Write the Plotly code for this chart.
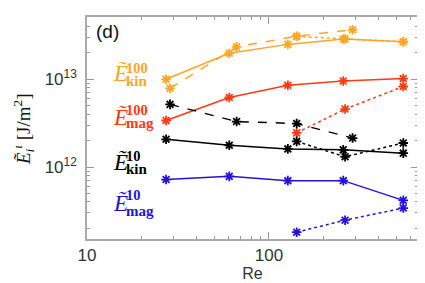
import plotly.graph_objects as go

# ---- data ----
re_solid = [27.2, 60.5, 127, 256, 547]
ekin100_solid = [1.0e13, 1.98e13, 2.5e13, 2.88e13, 2.68e13]
emag100_solid = [3.39e12, 6.2e12, 8.55e12, 9.55e12, 1.02e13]
ekin10_solid = [2.07e12, 1.77e12, 1.61e12, 1.57e12, 1.44e12]
emag10_solid = [7.2e11, 7.83e11, 7.0e11, 7.0e11, 4.17e11]

re_dashed = [28.6, 66.4, 142, 288]
ekin100_dashed = [7.9e12, 2.34e13, 3.1e13, 3.67e13]
ekin10_dashed = [5.18e12, 3.3e12, 3.13e12, 2.14e12]

re_dotted = [142, 262, 547]
ekin100_dotted = [3.08e13, 2.88e13, 2.68e13]
emag100_dotted = [2.45e12, 4.58e12, 8.28e12]
ekin10_dotted = [1.96e12, 1.31e12, 1.88e12]
emag10_dotted = [1.81e11, 2.48e11, 3.41e11]

ORANGE = "#FFA526"
RED = "#FF3A12"
BLACK = "#000000"
BLUE = "#2412DC"

fig = go.Figure()

def add(x, y, color, dash):
    fig.add_trace(go.Scatter(
        x=x, y=y, mode="lines+markers",
        line=dict(color=color, width=1.5, dash=dash),
        marker=dict(symbol="asterisk-open", size=8,
                    line=dict(color=color, width=1.8)),
        showlegend=False))

add(re_solid, ekin100_solid, ORANGE, "solid")
add(re_dashed, ekin100_dashed, ORANGE, "dash")
add(re_dotted, ekin100_dotted, ORANGE, "dot")
add(re_solid, emag100_solid, RED, "solid")
add(re_dotted, emag100_dotted, RED, "dot")
add(re_solid, ekin10_solid, BLACK, "solid")
add(re_dashed, ekin10_dashed, BLACK, "dash")
add(re_dotted, ekin10_dotted, BLACK, "dot")
add(re_solid, emag10_solid, BLUE, "solid")
add(re_dotted, emag10_dotted, BLUE, "dot")

W, H = 425, 283
L, R, T, B = 79, 410, 7, 231

def px(x):
    return (x - L) / (R - L)

def py(y):
    return (B - y) / (B - T)

ann = []
SERIF = "Liberation Serif"

def label(y_e, y_sup, y_sub, sup, sub, color):
    ann.append(dict(xref="paper", yref="paper", x=px(103), y=py(y_e),
                    xanchor="left", yanchor="middle", showarrow=False,
                    text="<i>Ẽ</i>", font=dict(family=SERIF, size=23, color=color)))
    ann.append(dict(xref="paper", yref="paper", x=px(116), y=py(y_sup),
                    xanchor="left", yanchor="middle", showarrow=False,
                    text="<b>%s</b>" % sup, font=dict(family=SERIF, size=14.5, color=color)))
    ann.append(dict(xref="paper", yref="paper", x=px(116), y=py(y_sub),
                    xanchor="left", yanchor="middle", showarrow=False,
                    text="<b>%s</b>" % sub, font=dict(family=SERIF, size=15, color=color)))

label(64, 58.5, 71.5, "100", "kin", ORANGE)
label(108, 100.5, 114, "100", "mag", RED)
label(154, 147, 160, "10", "kin", BLACK)
label(195, 187, 203, "10", "mag", BLUE)

ann.append(dict(xref="paper", yref="paper", x=px(86), y=py(22),
                xanchor="left", yanchor="middle", showarrow=False,
                text="(d)", font=dict(family="Liberation Sans", size=19, color="#111")))

ann.append(dict(xref="paper", yref="paper", x=px(16), y=py(120),
                xanchor="center", yanchor="middle", showarrow=False, textangle=-90,
                text="<i>Ẽ</i><sub><i>i</i></sub><sup><i>ι</i></sup> [J/m<sup>2</sup>]",
                font=dict(family=SERIF, size=19, color="#111")))

fig.update_layout(
    width=W, height=H,
    margin=dict(l=L, r=W - R, t=T, b=H - B),
    paper_bgcolor="white", plot_bgcolor="white",
    annotations=ann,
    font=dict(family="Liberation Sans", size=17, color="#333"),
)

fig.update_xaxes(
    type="log", range=[1.0, 2.819],
    tickvals=[10, 100], ticktext=["10", "100"],
    tickfont=dict(family="Liberation Sans", size=17, color="#333"),
    ticks="inside", ticklen=7, tickwidth=1.2, tickcolor="#999",
    showline=True, linecolor="#aaa", linewidth=1.6, mirror="allticks",
    showgrid=False, zeroline=False,
    minor=dict(tickvals=[20, 30, 40, 50, 60, 70, 80, 90, 200, 300, 400, 500, 600],
               ticks="inside", ticklen=3.5, tickwidth=1, tickcolor="#999", showgrid=False),
    title=dict(text="Re", font=dict(family="Liberation Sans", size=16, color="#333"), standoff=4),
    ticklabelstandoff=0,
)

fig.update_yaxes(
    type="log", range=[11.18, 13.71],
    tickvals=[1e12, 1e13], ticktext=["10<sup>12</sup>", "10<sup>13</sup>"],
    tickfont=dict(family="Liberation Sans", size=17, color="#333"),
    ticks="inside", ticklen=7, tickwidth=1.2, tickcolor="#999",
    showline=True, linecolor="#aaa", linewidth=1.6, mirror="allticks",
    showgrid=False, zeroline=False,
    minor=dict(tickvals=[2e11, 3e11, 4e11, 5e11, 6e11, 7e11, 8e11, 9e11,
                         2e12, 3e12, 4e12, 5e12, 6e12, 7e12, 8e12, 9e12,
                         2e13, 3e13, 4e13, 5e13],
               ticks="inside", ticklen=3.5, tickwidth=1, tickcolor="#999", showgrid=False),
    ticklabelstandoff=5,
)

fig.write_html("out.html")
